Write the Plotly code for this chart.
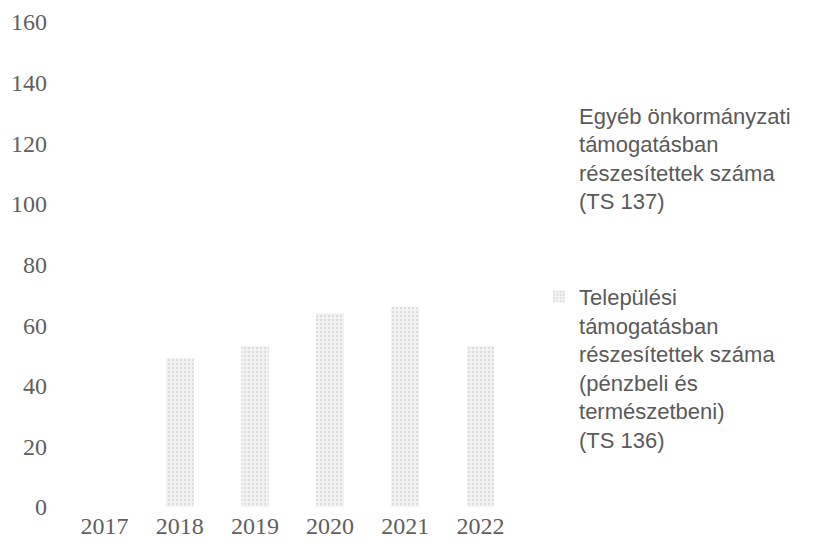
import plotly.graph_objects as go

years = ["2017", "2018", "2019", "2020", "2021", "2022"]
ts136 = [0, 49, 53, 64, 66, 53]
ts137 = [0, 0, 0, 0, 0, 0]
name136 = "Települési<br>támogatásban<br>részesítettek száma<br>(pénzbeli és<br>természetbeni)<br>(TS 136)"
name137 = "Egyéb önkormányzati<br>támogatásban<br>részesítettek száma<br>(TS 137)"
y_ticks = [0, 20, 40, 60, 80, 100, 120, 140, 160]

fig = go.Figure()
fig.add_trace(go.Bar(
    x=years, y=ts136, name=name136, legendgroup="b", legendrank=2,
    marker=dict(color="#ececec", line=dict(width=0),
                pattern=dict(shape=".", fgcolor="#c8c8c8", bgcolor="#f3f3f3", size=4, solidity=0.35)),
))
fig.add_trace(go.Bar(
    x=years, y=ts137, name=name137, legendgroup="a", legendrank=1,
    marker=dict(color="#ffffff", line=dict(width=0)),
))

fig.update_layout(
    width=817, height=546,
    barmode="stack", bargap=0.63,
    paper_bgcolor="white", plot_bgcolor="white",
    margin=dict(l=59, r=307, t=14, b=47, autoexpand=False),
    font=dict(family="Liberation Serif, DejaVu Serif, serif", color="#5f5f5f"),
    showlegend=True,
    legend=dict(
        x=1.0466, xanchor="left", y=0.851, yanchor="top",
        traceorder="grouped", tracegroupgap=64,
        valign="top", itemwidth=30,
        font=dict(family="Liberation Sans, sans-serif", size=22, color="#5a5a5a"),
        bgcolor="rgba(0,0,0,0)",
    ),
)
fig.update_xaxes(showgrid=False, showline=False, zeroline=False, ticks="",
                 tickfont=dict(size=24), ticklabelstandoff=2, automargin=False)
fig.update_yaxes(range=[0, 160], tickvals=y_ticks, showgrid=False, showline=False,
                 zeroline=False, ticks="", tickfont=dict(size=24), ticklabelstandoff=19,
                 ticklabeloverflow="allow", automargin=False)

fig.write_html("out.html")
